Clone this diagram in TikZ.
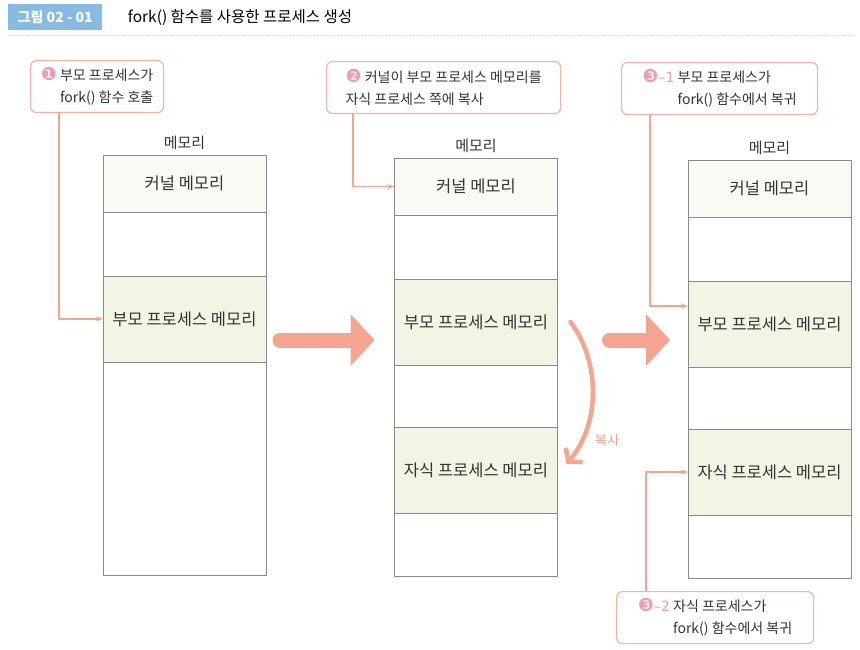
\documentclass[tikz,border=0pt]{standalone}
\usepackage{fontspec}
\setmainfont{Noto Sans CJK KR}
\newfontfamily\dingfont{DejaVu Sans}
\usepackage{xcolor}
\usepackage{tikz}
\usetikzlibrary{arrows.meta,positioning,calc}
\definecolor{ink}{HTML}{333333}
\definecolor{salmon}{HTML}{F4A48F}
\definecolor{calloutline}{HTML}{F2B4A2}
\definecolor{markpink}{HTML}{F29AB0}
\definecolor{cellline}{HTML}{8A8A8A}
\definecolor{kernelfill}{HTML}{FAF9F3}
\definecolor{procfill}{HTML}{F2F5E4}
\definecolor{headblue}{HTML}{88BBE2}
\newcommand{\stepmark}[2]{{\color{markpink}{\dingfont\fontsize{18}{18}\selectfont#1}{\dingfont\fontsize{14}{14}\selectfont#2}}}
\tikzset{
    every picture/.style={line cap=round,line join=round},
    memcell/.style={draw=cellline,line width=0.9pt,minimum width=163,
      outer sep=0pt,inner sep=0pt,text=ink,font=\fontsize{16.5}{18}\selectfont},
    kernelcell/.style={memcell,fill=kernelfill,minimum height=57},
    blankcell/.style={memcell,fill=white},
    proccell/.style={memcell,fill=procfill,minimum height=86},
    memlabel/.style={text=ink,font=\fontsize{15}{16}\selectfont},
    callout/.style={draw=calloutline,fill=white,line width=1.2pt,rounded corners=6pt,
      align=left,inner xsep=8pt,minimum height=52,anchor=north west,
      font=\fontsize{14}{22}\selectfont,text=ink},
    callline/.style={draw=salmon,line width=1.1pt,-{Stealth[length=7pt,width=5pt]}},
    bigarrow/.style={draw=salmon,line width=15pt,line cap=round,
      -{Triangle[length=24pt,width=52pt,line width=0pt]}},
    copyarrow/.style={draw=salmon,line width=4.5pt,
      -{Straight Barb[length=9pt,width=22pt]}}
}
\begin{document}
\begin{tikzpicture}[x=1pt,y=-1pt]
  \useasboundingbox (0,0) rectangle (860,650);
  \node[fill=headblue,text=white,font=\bfseries\fontsize{14}{16}\selectfont,
    minimum width=94,minimum height=26,anchor=north west] (tag) at (8,4) {그림 02 - 01};
  \node[right=22pt of tag,text=black,font=\fontsize{15.5}{18}\selectfont] (title)
    {fork() 함수를 사용한 프로세스 생성};
  \draw[headblue!55,dotted,line width=1pt] ([yshift=-5pt]tag.south west) -- ++(847,0);

  \foreach \i/\x/\t in {1/184.5/155,2/476/158,3/769.5/160}{
    \node[memlabel] (mem\i) at (\x,\t-12) {메모리};
    \node[kernelcell,anchor=north] (k\i) at (\x,\t) {커널 메모리};
    \node[blankcell,anchor=north,minimum height=64] (g\i) at (k\i.south) {};
    \node[proccell,anchor=north] (p\i) at (g\i.south) {부모 프로세스 메모리};}
  \node[blankcell,anchor=north,minimum height=213] (r1) at (p1.south) {};
  \foreach \i in {2,3}{
    \node[blankcell,anchor=north,minimum height=62] (h\i) at (p\i.south) {};
    \node[proccell,anchor=north] (c\i) at (h\i.south) {자식 프로세스 메모리};
    \node[blankcell,anchor=north,minimum height=63] (e\i) at (c\i.south) {};}

  \node[callout,minimum width=133] (n1) at (30,60)
    {\stepmark{❶}{}\ 부모 프로세스가\\\phantom{\stepmark{❶}{}\ }fork() 함수 호출};
  \node[callout,minimum width=234] (n2) at (326,61)
    {\stepmark{❷}{}\ 커널이 부모 프로세스 메모리를\\자식 프로세스 쪽에 복사};
  \node[callout,minimum width=196] (n31) at (621,62)
    {\stepmark{❸}{–1}\ 부모 프로세스가\\\phantom{\stepmark{❸}{–1}\ }fork() 함수에서 복귀};
  \node[callout,minimum width=197] (n32) at (616,591)
    {\stepmark{❸}{–2}\ 자식 프로세스가\\\phantom{\stepmark{❸}{–2}\ }fork() 함수에서 복귀};

  \draw[callline] ([xshift=29pt]n1.south west) |- (p1.west);
  \draw[callline] ([xshift=27pt]n2.south west) |- (k2.west);
  \draw[callline] ([xshift=29pt]n31.south west) |- ([yshift=18pt]p3.west);
  \draw[callline] ([xshift=30pt]n32.north west) |- (c3.west);

  \draw[bigarrow] ([xshift=14pt,yshift=-21pt]p1.east) -- ([xshift=-20pt,yshift=-18pt]p2.west);
  \draw[bigarrow] ([xshift=52pt,yshift=-18pt]p2.east) -- ([xshift=-18pt,yshift=-16pt]p3.west);
  \draw[copyarrow] ([xshift=13pt]p2.east) .. controls +(30,40) and +(34,-40)
    .. ([xshift=9pt,yshift=6pt]c2.east);
  \node[text=salmon,font=\fontsize{13.5}{15}\selectfont] (copylbl) at (607,440) {복사};
\end{tikzpicture}
\end{document}
